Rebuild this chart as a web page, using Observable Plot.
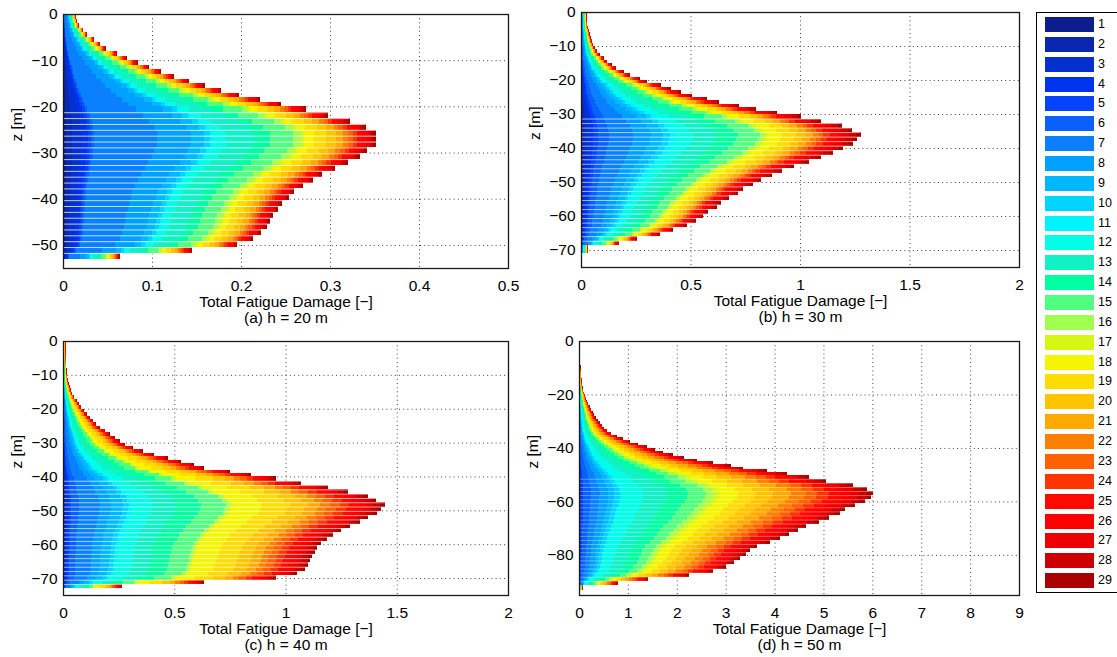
<!DOCTYPE html>
<html><head><meta charset="utf-8">
<script src="https://cdn.jsdelivr.net/npm/d3@7"></script>
<script src="https://cdn.jsdelivr.net/npm/@observablehq/plot@0.6"></script>
<style>
body{margin:0;background:#fff;font-family:"Liberation Sans",Arial,sans-serif;}
#root{position:relative;width:1117px;height:657px;overflow:hidden;background:#fff;}
.panel{position:absolute;}
.legend{position:absolute;left:1036px;top:12px;width:100px;height:581px;border:1px solid #000;box-sizing:border-box;background:#fff;}
.item{position:absolute;left:8px;height:15px;}
.sw{position:absolute;left:0;top:0;width:49px;height:15px;box-shadow:0 0 0 0.5px rgba(255,255,255,0.6);}
.lab{position:absolute;left:53px;top:0;line-height:15px;font-size:12.5px;color:#000;}
</style></head>
<body><div id="root"></div>
<script>
// ---- categories / colours (legend) ----
const categories = d3.range(1, 30);
const colors = ["#0d1e8c","#0a27b0","#0530cf","#0033f0","#0543ff","#0a5fff","#0a80ff","#00a0ff","#00b8ff","#00d4ff",
  "#00f4ff","#00ffe6","#12f0c6","#00ffa0","#50ff80","#a0ff50","#d4f814","#f5f500","#ffdc00","#ffc400",
  "#ffaa00","#ff8000","#ff6000","#ff3400","#ff0800","#ff0000","#ee0000","#cc0000","#aa0000"];

// ---- panel (a) h = 20 m ----
const totalsA = [0.0146,0.016,0.018,0.023,0.027,0.035,0.042,0.048,0.061,0.072,0.084,0.097,0.110,0.125,0.142,0.159,0.178,0.198,0.221,0.245,
  0.273,0.298,0.322,0.340,0.352,0.352,0.352,0.342,0.334,0.320,0.306,0.291,0.281,0.270,0.260,0.254,0.246,0.242,0.236,0.233,0.229,0.222,0.213,0.196,0.145,0.064,
  0.0015];
const cumShareA = [0.01,0.03,0.06,0.08,0.09,0.10,0.30,0.41,0.45,0.47,0.48,0.52,0.61,0.66,0.735,0.76,0.77,0.80,0.84,0.87,0.895,0.91,0.925,0.94,0.955,0.97,0.98,0.99,1];
// ---- panel (b) h = 30 m ----
const totalsB = [0.026,0.027,0.028,0.029,0.031,0.036,0.040,0.045,0.050,0.057,0.064,0.074,0.085,0.105,0.120,0.140,0.160,0.195,0.225,0.270,0.300,0.365,0.410,0.455,0.505,0.575,0.63,0.72,0.80,0.895,
  1.003,1.096,1.190,1.236,1.277,1.262,1.240,1.195,1.152,1.094,1.040,0.973,0.918,0.874,0.820,0.784,0.741,0.718,0.677,0.638,0.619,0.581,0.559,0.525,0.482,0.419,0.361,0.257,0.175,
  0.033,0.004];
const cumShareB = [0.005,0.015,0.03,0.045,0.062,0.10,0.187,0.25,0.294,0.32,0.342,0.40,0.485,0.56,0.64,0.658,0.67,0.72,0.77,0.80,0.83,0.85,0.867,0.89,0.915,0.935,0.96,0.985,1];
// ---- panel (c) h = 40 m ----
const totalsC = [0.012,0.012,0.012,0.012,0.013,0.013,0.014,0.015,0.016,0.017,0.019,0.021,0.025,0.03,0.035,0.042,0.05,0.062,0.072,0.082,
  0.095,0.108,0.122,0.137,0.150,0.165,0.19,0.21,0.235,0.255,0.28,0.315,0.36,0.41,0.47,0.53,0.59,0.635,0.75,0.845,
  0.959,1.071,1.191,1.281,1.371,1.408,1.446,1.428,1.413,1.371,1.333,1.288,1.251,1.213,1.187,1.161,1.142,1.131,1.119,1.112,1.101,1.086,1.053,0.956,0.632,0.267,
  0.004];
const cumShareC = [0.002,0.006,0.012,0.019,0.026,0.05,0.114,0.15,0.187,0.205,0.218,0.28,0.352,0.43,0.508,0.52,0.528,0.62,0.705,0.76,0.80,0.829,0.86,0.89,0.92,0.945,0.965,0.985,1];
// ---- panel (d) h = 50 m ----
const totalsD = [0.02,0.02,0.02,0.02,0.022,0.024,0.026,0.028,0.03,0.032,0.035,0.04,0.045,0.05,0.055,0.06,0.065,0.075,0.09,0.11,
  0.13,0.15,0.17,0.19,0.22,0.25,0.28,0.31,0.34,0.38,0.43,0.47,0.52,0.58,0.66,0.77,0.89,1.05,1.2,1.39,1.55,1.72,1.92,2.14,2.41,2.75,3.1,3.35,3.85,4.25,
  4.71,5.05,5.6,5.9,6.02,5.98,5.85,5.65,5.45,5.33,5.12,4.9,4.65,4.48,4.3,4.12,3.9,3.65,3.5,3.42,3.3,3.18,3.0,2.75,2.25,1.42,0.8,
  0.08];
const cumShareD = [0.001,0.003,0.006,0.01,0.015,0.04,0.07,0.10,0.12,0.14,0.15,0.22,0.30,0.37,0.43,0.46,0.48,0.54,0.60,0.66,0.72,0.77,0.81,0.85,0.89,0.92,0.95,0.98,1];

// row grid: upper rows of 1 m down to -h, then nLower rows down to lowerEnd, then extra bottom edges
const gridA = {h: 20, lowerEnd: -53.0, nLower: 26, extra: [-55]};
const gridB = {h: 30, lowerEnd: -68.6, nLower: 29, extra: [-71, -75]};
const gridC = {h: 40, lowerEnd: -73.0, nLower: 26, extra: [-75]};
const gridD = {h: 50, lowerEnd: -91.2, nLower: 27, extra: [-93]};

const xTicksA = [0, 0.1, 0.2, 0.3, 0.4, 0.5];
const xTicksBC = [0, 0.5, 1, 1.5, 2];
const xTicksD = [0, 1, 2, 3, 4, 5, 6, 7, 8, 9];
const yTicksA = [0, -10, -20, -30, -40, -50];
const yTicksBC = [0, -10, -20, -30, -40, -50, -60, -70];
const yTicksD = [0, -20, -40, -60, -80];

function edgesOf(g) {
  const up = d3.range(0, g.h + 1).map(i => -i);
  const step = (g.lowerEnd + g.h) / g.nLower;
  const low = d3.range(1, g.nLower + 1).map(i => -g.h + i * step);
  return up.concat(low, g.extra);
}

function build(totals, cum, g) {
  const edges = edgesOf(g);
  const rects = [];
  totals.forEach((t, i) => {
    let prev = 0;
    cum.forEach((c, k) => {
      rects.push({cat: categories[k], x1: t * prev, x2: t * c, y1: edges[i + 1], y2: edges[i]});
      prev = c;
    });
  });
  const gaps = [];
  for (let i = g.h + 1; i < g.h + g.nLower; i++) {
    gaps.push({z: edges[i], x: Math.max(totals[i - 1], totals[i])});
  }
  return {rects, gaps};
}

function panel(totals, cum, g, opts) {
  const {rects, gaps} = build(totals, cum, g);
  const font = "Liberation Sans, Arial, Helvetica, sans-serif";
  return Plot.plot({
    width: 520, height: 330,
    marginLeft: opts.ml, marginRight: opts.mr, marginTop: opts.mt, marginBottom: 62,
    style: {fontFamily: font, fontSize: "15.5px", color: "#000", background: "transparent", overflow: "visible"},
    x: {domain: opts.xd, ticks: opts.xt, tickFormat: d3.format(""), tickSize: 0, tickPadding: 11, label: null},
    y: {domain: opts.yd, ticks: opts.yt, tickFormat: d3.format(""), tickSize: 0, tickPadding: 6, label: null},
    color: {type: "ordinal", domain: categories, range: colors},
    marks: [
      Plot.ruleX(opts.xt.slice(1, -1), {stroke: "#444", strokeWidth: 1, strokeDasharray: "1,3.2"}),
      Plot.ruleY(opts.yt.slice(1), {stroke: "#444", strokeWidth: 1, strokeDasharray: "1,3.2"}),
      Plot.rect(rects, {x1: "x1", x2: "x2", y1: "y1", y2: "y2", fill: "cat", shapeRendering: "crispEdges"}),
      Plot.ruleY(gaps, {y: "z", x1: 0, x2: "x", stroke: "#ffffff", strokeWidth: 0.9, strokeOpacity: opts.gapOpacity}),
      Plot.frame({stroke: "#1a1a1a", strokeWidth: 1.3}),
      Plot.text(["Total Fatigue Damage [\u2212]"], {frameAnchor: "bottom", lineAnchor: "middle", dy: 34, fontSize: 15.5, fill: "#000"}),
      Plot.text([opts.caption], {frameAnchor: "bottom", lineAnchor: "middle", dy: 50, fontSize: 15.5, fill: "#000"}),
      Plot.text(["z [m]"], {frameAnchor: "left", lineAnchor: "middle", dx: -46, rotate: -90, fontSize: 15.5, fill: "#000"})
    ]
  });
}

const root = document.getElementById("root");
function place(node, left, top) {
  const d = document.createElement("div");
  d.className = "panel"; d.style.left = left + "px"; d.style.top = top + "px";
  d.appendChild(node); root.appendChild(d);
}
place(panel(totalsA, cumShareA, gridA, {ml: 63, mr: 12, mt: 14, xd: [0, 0.5], xt: xTicksA, yd: [-55, 0], yt: yTicksA, caption: "(a) h = 20 m", gapOpacity: 0.85}), 0, 0);
place(panel(totalsB, cumShareB, gridB, {ml: 63, mr: 19, mt: 13, xd: [0, 2], xt: xTicksBC, yd: [-75, 0], yt: yTicksBC, caption: "(b) h = 30 m", gapOpacity: 0.7}), 518, -1);
place(panel(totalsC, cumShareC, gridC, {ml: 63, mr: 12, mt: 14, xd: [0, 2], xt: xTicksBC, yd: [-75, 0], yt: yTicksBC, caption: "(c) h = 40 m", gapOpacity: 0.7}), 0, 327);
place(panel(totalsD, cumShareD, gridD, {ml: 61, mr: 19, mt: 14, xd: [0, 9], xt: xTicksD, yd: [-95, 0], yt: yTicksD, caption: "(d) h = 50 m", gapOpacity: 0.4}), 518, 327);

// legend
const leg = document.createElement("div");
leg.className = "legend";
categories.forEach((c, i) => {
  const it = document.createElement("div");
  it.className = "item"; it.style.top = (4 + i * 19.86) + "px";
  it.innerHTML = `<div class="sw" style="background:${colors[i]}"></div><div class="lab">${c}</div>`;
  leg.appendChild(it);
});
root.appendChild(leg);
</script>
</body></html>
